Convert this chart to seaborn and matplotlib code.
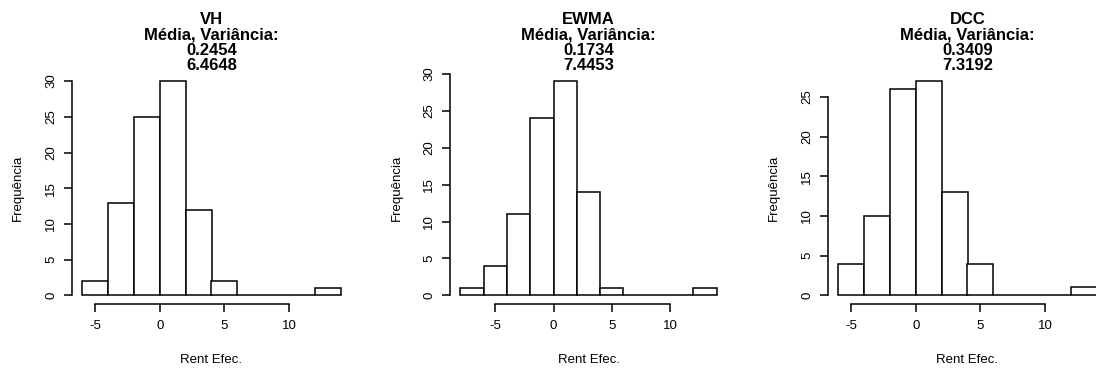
import numpy as np
import matplotlib.pyplot as plt
import seaborn as sns

# histogram counts per bin (bin width 2)
vh_edges = [-6, -4, -2, 0, 2, 4, 6, 8, 10, 12, 14]
vh_counts = [2, 13, 25, 30, 12, 2, 0, 0, 0, 1]

ewma_edges = [-8, -6, -4, -2, 0, 2, 4, 6, 8, 10, 12, 14]
ewma_counts = [1, 4, 11, 24, 29, 14, 1, 0, 0, 0, 1]

dcc_edges = [-6, -4, -2, 0, 2, 4, 6, 8, 10, 12, 14]
dcc_counts = [4, 10, 26, 27, 13, 4, 0, 0, 0, 1]

names = ["VH", "EWMA", "DCC"]
means = ["0.2454", "0.1734", "0.3409"]
variances = ["6.4648", "7.4453", "7.3192"]
x_ticks = [-5, 0, 5, 10]

sns.set_style("white")
plt.rcParams['font.family'] = ['Liberation Sans', 'DejaVu Sans']
plt.rcParams['text.color'] = 'black'
plt.rcParams['axes.labelcolor'] = 'black'

fig = plt.figure(figsize=(10.96, 3.73), dpi=100)

panels = [(vh_edges, vh_counts), (ewma_edges, ewma_counts), (dcc_edges, dcc_counts)]
lefts = [72, 450, 828]
widths = [279, 277, 279]
W, H = 1096, 373
top_px, bot_px = 72.5, 304

for i, (edges, counts) in enumerate(panels):
    ax = fig.add_axes([lefts[i] / W, 1 - bot_px / H, widths[i] / W, (bot_px - top_px) / H])
    centers = [(a + b) / 2 for a, b in zip(edges[:-1], edges[1:])]
    sns.histplot(x=centers, weights=counts, bins=list(edges), ax=ax, color='white',
                 edgecolor='black', linewidth=1.1, alpha=1)

    # R-style 4% axis extension
    xr = edges[-1] - edges[0]
    ax.set_xlim(edges[0] - 0.04 * xr, edges[-1] + 0.04 * xr)
    ymax = max(counts)
    ytop = ymax * 1.04
    ax.set_ylim(-0.04 * ymax, ytop)

    yt = np.arange(0, ytop, 5)
    ax.set_yticks(yt)
    ax.set_yticklabels([str(int(v)) for v in yt], rotation=90, va='center')
    ax.set_xticks(x_ticks)
    ax.set_xticklabels([str(v) for v in x_ticks])

    for s in ['top', 'right']:
        ax.spines[s].set_visible(False)
    ax.spines['left'].set_bounds(yt[0], yt[-1])
    ax.spines['bottom'].set_bounds(x_ticks[0], x_ticks[-1])
    for s in ['left', 'bottom']:
        ax.spines[s].set_linewidth(1.1)
        ax.spines[s].set_color('black')

    ax.tick_params(axis='both', which='major', direction='out', length=5.5, width=1.1,
                   color='black', labelsize=9.5, labelcolor='black', bottom=True, left=True)
    ax.tick_params(axis='y', pad=5)
    ax.tick_params(axis='x', pad=6)

    ax.set_xlabel("Rent Efec.", fontsize=9.5)
    ax.set_ylabel("Frequência", fontsize=9.5)
    ax.xaxis.set_label_coords(0.5, (bot_px - 360) / (bot_px - top_px))
    ax.xaxis.label.set_va('center')
    ax.yaxis.set_label_coords((18 - 72) / 279, 0.5)
    ax.yaxis.label.set_va('center')

    ax.set_title(f"{names[i]}\nMédia, Variância:\n{means[i]}\n{variances[i]}",
                 fontsize=12, fontweight='bold', linespacing=1.03, pad=1.5, color='black')

fig.savefig("out.png", dpi=100)
